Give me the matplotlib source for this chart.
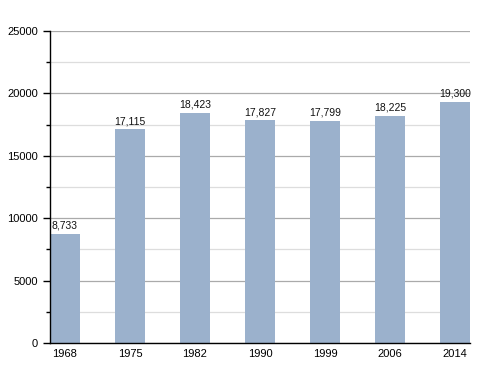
import matplotlib
matplotlib.use("Agg")
import matplotlib.pyplot as plt
from matplotlib.ticker import MultipleLocator

plt.rcParams["font.family"] = ["Liberation Sans", "DejaVu Sans"]

years = ["1968", "1975", "1982", "1990", "1999", "2006", "2014"]
population = [8733, 17115, 18423, 17827, 17799, 18225, 19300]
labels = ["8,733", "17,115", "18,423", "17,827", "17,799", "18,225", "19,300"]

fig = plt.figure(figsize=(5, 3.73), dpi=100)
ax = fig.add_axes([0.1, 0.0804, 0.84, 0.8366])
x = list(range(len(years)))
ax.set_axisbelow(True)
ax.yaxis.set_major_locator(MultipleLocator(5000))
ax.yaxis.set_minor_locator(MultipleLocator(2500))
ax.grid(axis="y", which="major", color="#aaaaaa", linewidth=0.9)
ax.grid(axis="y", which="minor", color="#dddddd", linewidth=0.9)
bars = ax.bar(x, population, width=0.46, color="#9bb1cc")
for xi, v, t in zip(x, population, labels):
    ax.text(xi, v + 250, t, ha="center", va="bottom", fontsize=7.5, color="#111111")
ax.set_xlim(-0.23, 6.23)
ax.set_ylim(0, 25000)
ax.set_xticks(x)
ax.set_xticklabels(years, fontsize=8)
ax.tick_params(axis="x", length=0, pad=4)
ax.tick_params(axis="y", which="major", length=5, labelsize=8, width=1)
ax.tick_params(axis="y", which="minor", length=3, width=1)
for s in ["top", "right"]:
    ax.spines[s].set_visible(False)
ax.spines["left"].set_linewidth(1)
ax.spines["bottom"].set_linewidth(1)
fig.savefig("out.png", dpi=100)
